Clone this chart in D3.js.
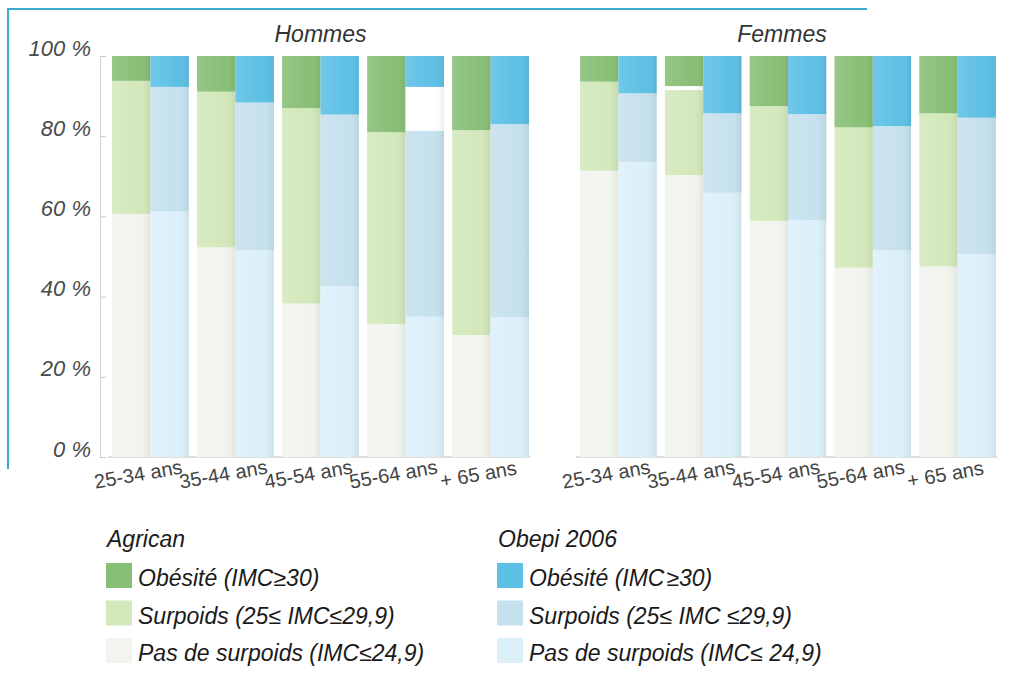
<!DOCTYPE html>
<html><head><meta charset="utf-8">
<script src="https://cdn.jsdelivr.net/npm/d3@7"></script>
<style>
body{margin:0;background:#fff;}
svg{display:block;font-family:"Liberation Sans",Arial,sans-serif;}
</style></head>
<body><svg id="c" width="1019" height="688"></svg>
<script>
// ---- data ----
const ages = ["25-34 ans","35-44 ans","45-54 ans","55-64 ans","+ 65 ans"];
const sexes = ["Hommes","Femmes"];
const sources = ["Agrican","Obepi 2006"];
const yTicks = [0,20,40,60,80,100];

// Hommes
const agricanPasH   = [60.6, 52.3, 38.3, 33.2, 30.4];
const agricanSurpH  = [33.2, 38.8, 48.7, 47.8, 51.1];
const agricanBlankH = [0, 0, 0, 0, 0];
const agricanObH    = [6.2, 8.9, 13.0, 19.0, 18.5];
const obepiPasH     = [61.2, 51.6, 42.6, 35.0, 34.8];
const obepiSurpH    = [31.1, 36.8, 42.8, 46.4, 48.2];
const obepiBlankH   = [0, 0, 0, 10.9, 0];
const obepiObH      = [7.7, 11.6, 14.6, 7.7, 17.0];
// Femmes
const agricanPasF   = [71.4, 70.3, 58.9, 47.2, 47.5];
const agricanSurpF  = [22.2, 21.2, 28.6, 35.0, 38.2];
const agricanBlankF = [0, 1.0, 0, 0, 0];
const agricanObF    = [6.4, 7.5, 12.5, 17.8, 14.3];
const obepiPasF     = [73.6, 65.9, 59.1, 51.5, 50.6];
const obepiSurpF    = [17.1, 19.8, 26.4, 31.0, 34.0];
const obepiBlankF   = [0, 0, 0, 0, 0];
const obepiObF      = [9.3, 14.3, 14.5, 17.5, 15.4];

const legendAgrican = ["Obésité (IMC\u226530)","Surpoids (25\u2264 IMC\u226429,9)","Pas de surpoids (IMC\u226424,9)"];
const legendObepi   = ["Obésité (IMC\u200a\u226530)","Surpoids (25\u2264 IMC \u226429,9)","Pas de surpoids (IMC\u2264 24,9)"];

// ---- styles ----
const colors = {
  "Agrican":   {pas:"#f2f4ee", surp:"#d3e8bb", blank:"#ffffff", ob:"#88bf76"},
  "Obepi 2006":{pas:"#dcf0fa", surp:"#c6e1ee", blank:"#ffffff", ob:"#5dc0e5"}
};
const keys = ["pas","surp","blank","ob"];
const titleShift = {Hommes:0, Femmes:-6};

const data = {
  Hommes: {
    "Agrican":   {pas:agricanPasH, surp:agricanSurpH, blank:agricanBlankH, ob:agricanObH},
    "Obepi 2006":{pas:obepiPasH, surp:obepiSurpH, blank:obepiBlankH, ob:obepiObH}
  },
  Femmes: {
    "Agrican":   {pas:agricanPasF, surp:agricanSurpF, blank:agricanBlankF, ob:agricanObF},
    "Obepi 2006":{pas:obepiPasF, surp:obepiSurpF, blank:obepiBlankF, ob:obepiObF}
  }
};

const svg = d3.select("#c");
const defs = svg.append("defs");
const g1 = defs.append("linearGradient").attr("id","shade").attr("x1","0").attr("x2","1").attr("y1","0").attr("y2","0");
g1.append("stop").attr("offset","0").attr("stop-color","#fff").attr("stop-opacity",0.12);
g1.append("stop").attr("offset","0.7").attr("stop-color","#fff").attr("stop-opacity",0);
g1.append("stop").attr("offset","1").attr("stop-color","#000").attr("stop-opacity",0.07);

// frame
svg.append("line").attr("x1",8).attr("x2",867).attr("y1",9).attr("y2",9).attr("stroke","#3fa9cc").attr("stroke-width",2);
svg.append("line").attr("x1",8).attr("x2",8).attr("y1",8).attr("y2",469).attr("stroke","#3fa9cc").attr("stroke-width",2);

const y = d3.scaleLinear().domain([0,100]).range([457,56]);
const panels = {Hommes:[107.9,533.1], Femmes:[576,1000]};

// y axis
const yAxis = svg.append("g").attr("transform","translate(100,0)")
  .call(d3.axisLeft(y).tickValues(yTicks).tickSizeInner(-6).tickSizeOuter(0).tickPadding(9).tickFormat(d=>d+" %"));
yAxis.select(".domain").attr("stroke","#d0d0d0");
yAxis.selectAll(".tick line").attr("stroke","#c8c8c8");
yAxis.selectAll(".tick text").attr("dy","-1").attr("font-size",22).attr("font-style","italic")
  .attr("fill","#4a4a4a").attr("font-family","'Liberation Sans',Arial,sans-serif");

sexes.forEach(sex=>{
  const x0 = d3.scaleBand().domain(ages).range(panels[sex]).paddingInner(0.097).paddingOuter(0.0485);
  const x1 = d3.scaleBand().domain(sources).range([0,x0.bandwidth()]);
  const g = svg.append("g");
  // baseline
  g.append("line").attr("x1",panels[sex][0]).attr("x2",panels[sex][1]-3).attr("y1",y(0)).attr("y2",y(0))
    .attr("stroke","#d4d4d4").attr("stroke-width",1.5);
  sources.forEach(src=>{
    const rows = ages.map((a,i)=>{const r={age:a}; keys.forEach(k=>r[k]=data[sex][src][k][i]); return r;});
    const stacked = d3.stack().keys(keys)(rows);
    stacked.forEach(layer=>{
      g.selectAll(null).data(layer).join("rect")
        .attr("x",d=>x0(d.data.age)+x1(src))
        .attr("width",x1.bandwidth())
        .attr("y",d=>y(d[1]))
        .attr("height",d=>y(d[0])-y(d[1]))
        .attr("fill",colors[src][layer.key]);
    });
    // shading overlay
    g.selectAll(null).data(rows).join("rect")
      .attr("x",d=>x0(d.age)+x1(src)).attr("width",x1.bandwidth())
      .attr("y",y(100)).attr("height",y(0)-y(100))
      .attr("fill","url(#shade)");
  });
  // title
  const cx = (panels[sex][0]+panels[sex][1])/2 + titleShift[sex];
  svg.append("text").attr("x",cx).attr("y",42).attr("text-anchor","middle")
    .attr("font-size",23).attr("font-style","italic").attr("fill","#333").text(sex);
  // x labels
  svg.append("g").selectAll("text").data(ages).join("text")
    .attr("transform",d=>`translate(${x0(d)+x0.bandwidth()/2-11},481) rotate(-10)`)
    .attr("text-anchor","middle").attr("font-size",20).attr("fill","#444").text(d=>d);
});

// legends
function legend(x, title, labels, cols){
  const g = svg.append("g").attr("transform",`translate(${x},0)`);
  g.append("text").attr("x",0).attr("y",547).attr("font-size",23).attr("font-style","italic").attr("fill","#1a1a1a").text(title);
  const k = ["ob","surp","pas"];
  labels.forEach((l,i)=>{
    const yy = 563 + i*37.5;
    g.append("rect").attr("x",-1).attr("y",yy).attr("width",26).attr("height",25).attr("fill",cols[k[i]]);
    g.append("text").attr("x",31).attr("y",yy+23).attr("font-size",23).attr("font-style","italic").attr("fill","#1a1a1a").text(l);
  });
}
legend(107, "Agrican", legendAgrican, colors["Agrican"]);
legend(498, "Obepi 2006", legendObepi, colors["Obepi 2006"]);
</script></body></html>
